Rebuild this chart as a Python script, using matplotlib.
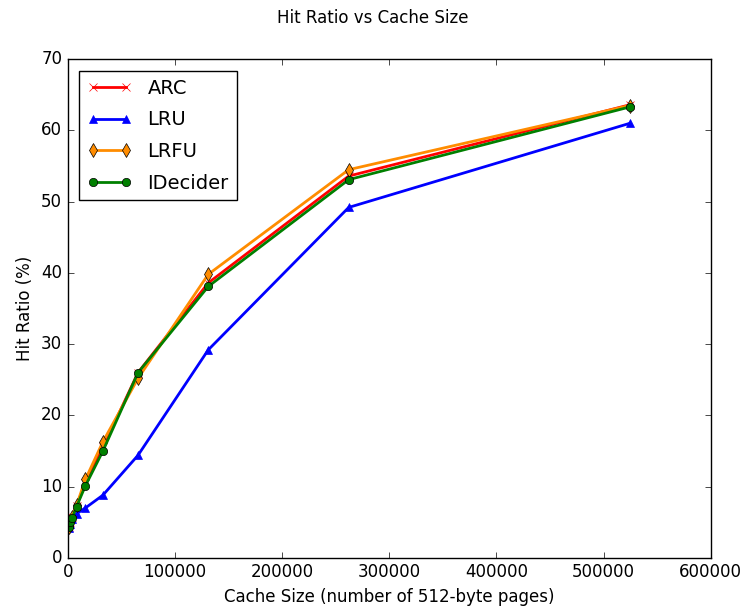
import matplotlib
matplotlib.use("Agg")
import matplotlib.pyplot as plt

plt.style.use('classic')

# cache sizes (number of 512-byte pages)
cache_sizes = [1024, 2048, 4096, 8192, 16384, 32768, 65536, 131072, 262144, 524288]

# hit ratios (%)
arc = [4.3, 5.0, 5.7, 7.3, 10.5, 15.5, 26.0, 38.6, 53.6, 63.6]
lru = [4.2, 4.8, 5.5, 6.2, 7.0, 8.8, 14.4, 29.2, 49.2, 61.0]
lrfu = [4.4, 5.1, 5.8, 7.4, 11.0, 16.3, 25.2, 39.8, 54.5, 63.5]
idecider = [4.3, 5.0, 5.6, 7.2, 10.1, 15.0, 26.0, 38.1, 53.1, 63.3]

fig = plt.figure(figsize=(7.45, 6.11), dpi=100, facecolor='white')
ax = fig.add_axes([0.091, 0.087, 0.863, 0.816])

ax.plot(cache_sizes, arc, color='red', marker='x', lw=2, mec='red', ms=6, label='ARC')
ax.plot(cache_sizes, lru, color='blue', marker='^', lw=2, mec='blue', ms=6, label='LRU')
ax.plot(cache_sizes, lrfu, color='darkorange', marker='d', lw=2, ms=7, label='LRFU')
ax.plot(cache_sizes, idecider, color='green', marker='o', lw=2, ms=6, label='IDecider')

ax.set_xlim(0, 600000)
ax.set_ylim(0, 70)
ax.set_xlabel('Cache Size (number of 512-byte pages)', fontsize=12)
ax.set_ylabel('Hit Ratio (%)', fontsize=12)
ax.tick_params(labelsize=12)
fig.suptitle('Hit Ratio vs Cache Size', fontsize=12, y=0.985)

ax.legend(loc='upper left', fontsize=14, numpoints=2, labelspacing=0.65,
          handlelength=2.3, borderaxespad=0.6)

fig.savefig('out.png', dpi=100, facecolor='white')
